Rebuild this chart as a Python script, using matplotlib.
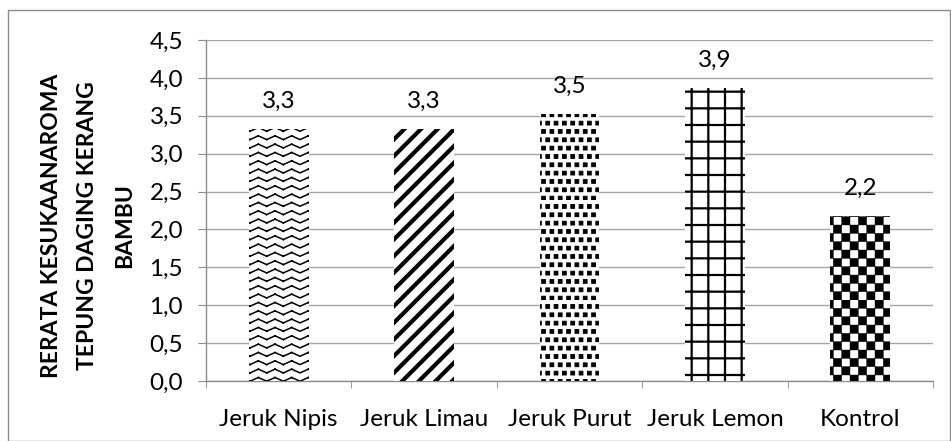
import warnings
import numpy as np
import matplotlib
matplotlib.use("Agg")
import matplotlib.pyplot as plt
import matplotlib.hatch as mhatch
from matplotlib.path import Path
from matplotlib.patches import Rectangle

warnings.filterwarnings("ignore")

# data
categories = ["Jeruk Nipis", "Jeruk Limau", "Jeruk Purut", "Jeruk Lemon", "Kontrol"]
values = [3.33, 3.33, 3.53, 3.87, 2.18]
labels = ["3,3", "3,3", "3,5", "3,9", "2,2"]
yticks = [0.0, 0.5, 1.0, 1.5, 2.0, 2.5, 3.0, 3.5, 4.0, 4.5]
ylabel = "RERATA KESUKAANAROMA\nTEPUNG DAGING KERANG\nBAMBU"


# custom hatch patterns: z = zigzag, c = checker, q = staggered squares
class ZigzagHatch(mhatch.HatchPatternBase):
    def __init__(self, hatch, density):
        self.rows = hatch.count('z') * density
        self.segs = 12
        self.num_vertices = self.rows * self.segs * 2

    def set_vertices_and_codes(self, vertices, codes):
        xs = np.linspace(0, 1, self.segs + 1)
        amp = 0.45 / self.rows
        k = 0
        for r in range(self.rows):
            y0 = (r + 0.25) / self.rows
            for i in range(self.segs):
                ya = y0 + (amp if i % 2 else 0)
                yb = y0 + (0 if i % 2 else amp)
                vertices[k] = (xs[i], ya)
                vertices[k + 1] = (xs[i + 1], yb)
                codes[k] = Path.MOVETO
                codes[k + 1] = Path.LINETO
                k += 2


class CheckerHatch(mhatch.HatchPatternBase):
    def __init__(self, hatch, density):
        self.n = hatch.count('c') * density
        self.num_vertices = (self.n * self.n // 2) * 5

    def set_vertices_and_codes(self, vertices, codes):
        s = 1.0 / self.n
        k = 0
        for i in range(self.n):
            for j in range(self.n):
                if (i + j) % 2 == 0:
                    x, y = i * s, j * s
                    vertices[k:k + 5] = [(x, y), (x + s, y), (x + s, y + s), (x, y + s), (x, y)]
                    codes[k:k + 5] = [Path.MOVETO, Path.LINETO, Path.LINETO, Path.LINETO, Path.CLOSEPOLY]
                    k += 5


class SquareHatch(mhatch.HatchPatternBase):
    def __init__(self, hatch, density):
        self.n = hatch.count('q') * density
        self.num_vertices = self.n * self.n * 5

    def set_vertices_and_codes(self, vertices, codes):
        s = 1.0 / self.n
        a = 0.45 * s
        k = 0
        for j in range(self.n):
            off = 0.5 * s if j % 2 else 0.0
            for i in range(self.n):
                x = (i * s + off) % 1.0
                y = j * s
                vertices[k:k + 5] = [(x, y), (x + a, y), (x + a, y + a), (x, y + a), (x, y)]
                codes[k:k + 5] = [Path.MOVETO, Path.LINETO, Path.LINETO, Path.LINETO, Path.CLOSEPOLY]
                k += 5


mhatch._hatch_types.extend([ZigzagHatch, CheckerHatch, SquareHatch])
mhatch._validate_hatch_pattern = lambda h: None

hatches = ["zz", "//", "qq", "+", "cc"]
hatch_lw = [1.1, 3.0, 0.7, 1.6, 0.3]

plt.rcParams['font.family'] = ['Lato', 'DejaVu Sans']
fsize = 17.5

fig = plt.figure(figsize=(9.51, 4.41), dpi=100)
ax = fig.add_axes([206 / 951, 1 - 381 / 441, (933 - 206) / 951, (381 - 40) / 441])

x = np.arange(len(categories))
bars = ax.bar(x, values, width=0.41, color="white", edgecolor="black", linewidth=0, zorder=3)
for b, h, lw in zip(bars, hatches, hatch_lw):
    b.set_hatch(h)
    if hasattr(b, "set_hatch_linewidth"):
        b.set_hatch_linewidth(lw)

for xi, v, t in zip(x, values, labels):
    ax.annotate(t, (xi, v), xytext=(0, 15), textcoords="offset points",
                ha="center", va="baseline", fontsize=fsize)

ax.set_xlim(-0.5, len(categories) - 0.5)
ax.set_ylim(0, 4.5)
ax.set_yticks(yticks)
ax.set_yticklabels([f"{t:.1f}".replace(".", ",") for t in yticks], fontsize=fsize)
ax.set_xticks(x)
ax.set_xticklabels(categories, fontsize=fsize)
ax.set_xticks(np.arange(-0.5, len(categories)), minor=True)

gray = "#8c8c8c"
ax.grid(axis="y", color="#a6a6a6", linewidth=1.0, zorder=0)
ax.set_axisbelow(True)
for side in ["top", "right"]:
    ax.spines[side].set_visible(False)
for side in ["left", "bottom"]:
    ax.spines[side].set_color(gray)
    ax.spines[side].set_linewidth(1.0)
ax.tick_params(axis="y", length=5.5, color=gray, pad=11)
ax.tick_params(axis="x", which="major", length=0, pad=20)
ax.tick_params(axis="x", which="minor", length=5, color=gray)

fig.text(88 / 951, 1 - 226 / 441, ylabel, rotation=90, ha="center", va="center",
         fontsize=16.5, fontweight="bold", linespacing=1.9, multialignment="center")

fig.patches.append(Rectangle((8 / 951, 0.5 / 441), 942 / 951, 430.5 / 441,
                             transform=fig.transFigure, fill=False,
                             edgecolor="#8c8c8c", linewidth=1.0))

fig.savefig("out.png", dpi=100)
